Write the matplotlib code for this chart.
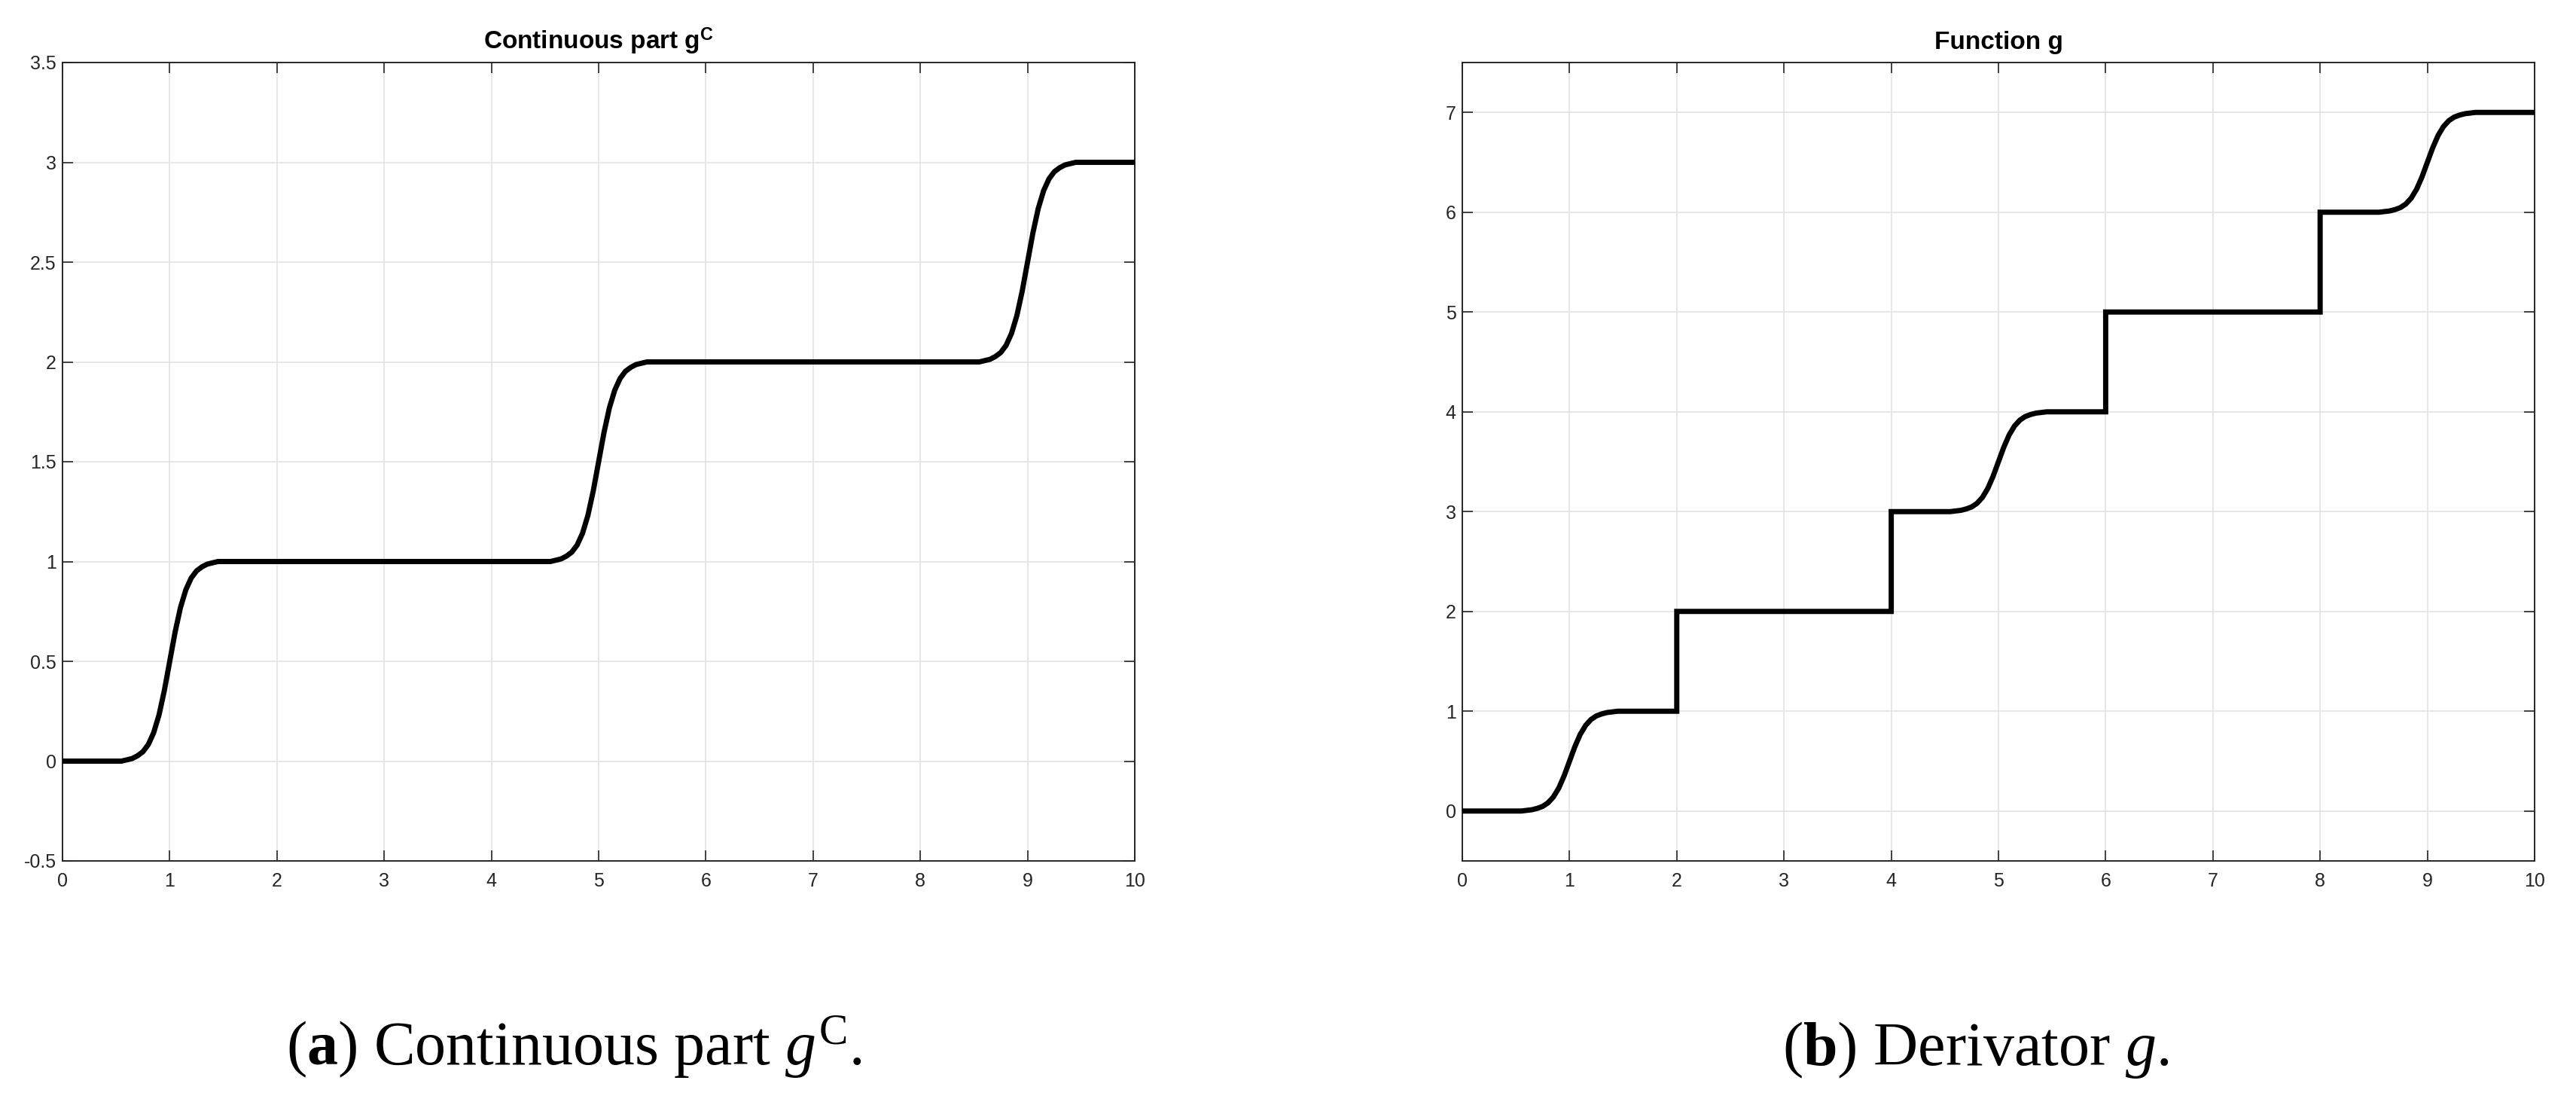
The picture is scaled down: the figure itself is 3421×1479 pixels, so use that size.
import matplotlib
matplotlib.use("Agg")
import matplotlib.pyplot as plt

# shape of one smooth rise of the continuous part (offset from centre, fraction risen)
rise_dx = [-0.45, -0.35, -0.30, -0.25, -0.20, -0.15, -0.10, -0.05, 0.0,
           0.05, 0.10, 0.15, 0.20, 0.25, 0.30, 0.35, 0.45]
rise_frac = [0.0, 0.013, 0.027, 0.047, 0.083, 0.142, 0.231, 0.354, 0.5,
             0.646, 0.769, 0.858, 0.917, 0.953, 0.973, 0.987, 1.0]

smooth_centres = [1, 5, 9]   # where g^C rises by 1
jump_points = [2, 4, 6, 8]   # where g jumps by 1
x_end = 10

left_yticks = [-0.5, 0, 0.5, 1, 1.5, 2, 2.5, 3, 3.5]
left_yticklabels = ["-0.5", "0", "0.5", "1", "1.5", "2", "2.5", "3", "3.5"]
right_yticks = [0, 1, 2, 3, 4, 5, 6, 7]
xticks = list(range(0, 11))

titles = [r"Continuous part g$^{\mathsf{C}}$", "Function g"]
captions = [r"($\mathbf{a}$) Continuous part $g^{\mathrm{C}}$.",
            r"($\mathbf{b}$) Derivator $g$."]


def build(smooth, jumps):
    events = sorted([(c, "s") for c in smooth] + [(j, "j") for j in jumps])
    xs, ys, level = [0.0], [0.0], 0
    for pos, kind in events:
        if kind == "s":
            xs += [pos + d for d in rise_dx]
            ys += [level + f for f in rise_frac]
        else:
            xs += [pos, pos]
            ys += [level, level + 1]
        level += 1
    xs.append(x_end)
    ys.append(level)
    return xs, ys


plt.rcParams.update({
    "font.family": "Liberation Sans",
    "mathtext.fontset": "custom",
    "mathtext.rm": "Liberation Serif",
    "mathtext.it": "Liberation Serif:italic",
    "mathtext.bf": "Liberation Serif:bold",
    "mathtext.sf": "Liberation Sans:bold",
})

W, H = 3421, 1479
fig = plt.figure(figsize=(W / 100, H / 100), dpi=100)

ax1 = fig.add_axes([83 / W, 336 / H, 1424 / W, 1060 / H])
ax2 = fig.add_axes([1942 / W, 336 / H, 1424 / W, 1060 / H])

gx, gy = build(smooth_centres, [])
ax1.plot(gx, gy, color="black", linewidth=5, solid_joinstyle="round", zorder=3)
fx, fy = build(smooth_centres, jump_points)
ax2.plot(fx, fy, color="black", linewidth=5, solid_joinstyle="miter", zorder=3)

ax1.set_ylim(-0.5, 3.5)
ax1.set_yticks(left_yticks)
ax1.set_yticklabels(left_yticklabels)
ax2.set_ylim(-0.5, 7.5)
ax2.set_yticks(right_yticks)
ax2.set_yticklabels([str(v) for v in right_yticks])

for ax, title in zip([ax1, ax2], titles):
    ax.set_xlim(0, x_end)
    ax.set_xticks(xticks)
    ax.set_xticklabels([str(v) for v in xticks])
    ax.grid(True, color="#e3e3e3", linewidth=1.2, zorder=0)
    ax.set_axisbelow(True)
    for s in ax.spines.values():
        s.set_color("#262626")
        s.set_linewidth(1.4)
    ax.tick_params(direction="in", length=10, width=1.2, color="#262626",
                   labelcolor="#262626", labelsize=18,
                   top=True, right=True)
    ax.tick_params(axis="x", pad=11)
    ax.tick_params(axis="y", pad=6)
    ax.text(0.5, 1 + 18 / 1060, title, transform=ax.transAxes,
            ha="center", va="baseline", fontsize=24, fontweight="bold")

fig.text(380 / W, (H - 1414) / H, captions[0], ha="left", va="baseline",
         fontsize=59, family="Liberation Serif")
fig.text(2367 / W, (H - 1414) / H, captions[1], ha="left", va="baseline",
         fontsize=59, family="Liberation Serif")

fig.savefig("out.png", dpi=100, facecolor="white")
